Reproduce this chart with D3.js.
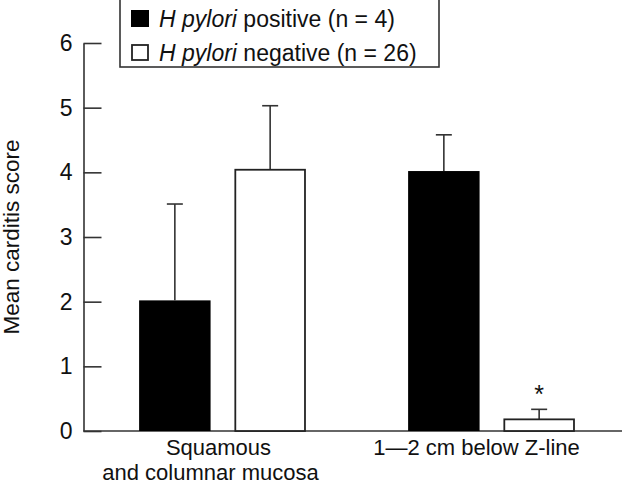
<!DOCTYPE html>
<html>
<head>
<meta charset="utf-8">
<script src="https://cdn.jsdelivr.net/npm/d3@7"></script>
<style>
  html, body { margin: 0; padding: 0; background: #fff; }
  svg { display: block; }
  text { font-family: "Liberation Sans", Arial, Helvetica, sans-serif; fill: #111; }
</style>
</head>
<body>
<svg id="chart" width="640" height="487"></svg>
<script>
// ---- data ----
const groups = ["Squamous and columnar mucosa", "1—2 cm below Z-line"];
const groupLabelLines = [["Squamous", "and columnar mucosa"], ["1—2 cm below Z-line"]];
const seriesNames = ["H pylori positive (n = 4)", "H pylori negative (n = 26)"];
const positiveMeans = [2.02, 4.02];
const positiveErrTop = [3.51, 4.58];
const negativeMeans = [4.04, 0.18];
const negativeErrTop = [5.03, 0.335];
const yTicks = [0, 1, 2, 3, 4, 5, 6];
const significance = ["", "*"]; // marks above negative bars

const svg = d3.select("#chart");
const axisColor = "#333";

const y = d3.scaleLinear().domain([0, 6]).range([431, 43]);
const x0 = d3.scaleBand().domain(groups).range([88, 626]).paddingInner(0.38).paddingOuter(0.19);
const x1 = d3.scaleBand().domain(["pos", "neg"]).range([0, x0.bandwidth()]).paddingInner(0.25).paddingOuter(0);

// y axis
const yAxis = d3.axisLeft(y).tickValues(yTicks).tickFormat(d3.format("d"))
  .tickSizeInner(-18).tickSizeOuter(0).tickPadding(11);
const gy = svg.append("g").attr("transform", "translate(83.5,0)").call(yAxis);
gy.select(".domain").attr("stroke", axisColor).attr("stroke-width", 1.6);
gy.selectAll(".tick line").attr("stroke", axisColor).attr("stroke-width", 1.6);
gy.selectAll(".tick text").style("font-size", "23px").attr("fill", "#111")
  .style("font-family", '"Liberation Sans", Arial, sans-serif');

// baseline
svg.append("line").attr("x1", 83.5).attr("x2", 622).attr("y1", y(0)).attr("y2", y(0))
  .attr("stroke", axisColor).attr("stroke-width", 1.6);

// data rows
const rows = [];
groups.forEach((g, i) => {
  rows.push({ g, s: "pos", v: positiveMeans[i], e: positiveErrTop[i], mark: "" });
  rows.push({ g, s: "neg", v: negativeMeans[i], e: negativeErrTop[i], mark: significance[i] });
});

const bx = d => x0(d.g) + x1(d.s);
const cx = d => bx(d) + x1.bandwidth() / 2;

// error bars (drawn first so bar covers the stem)
const eg = svg.append("g");
eg.selectAll("line.stem").data(rows).join("line").attr("class", "stem")
  .attr("x1", cx).attr("x2", cx).attr("y1", d => y(d.v)).attr("y2", d => y(d.e))
  .attr("stroke", axisColor).attr("stroke-width", 1.6);
eg.selectAll("line.cap").data(rows).join("line").attr("class", "cap")
  .attr("x1", d => cx(d) - 8).attr("x2", d => cx(d) + 8).attr("y1", d => y(d.e)).attr("y2", d => y(d.e))
  .attr("stroke", axisColor).attr("stroke-width", 1.6);

// bars
svg.append("g").selectAll("rect").data(rows).join("rect")
  .attr("x", d => d.s === "pos" ? bx(d) : bx(d) + 0.9)
  .attr("y", d => y(d.v))
  .attr("width", d => d.s === "pos" ? x1.bandwidth() : x1.bandwidth() - 1.8)
  .attr("height", d => y(0) - y(d.v))
  .attr("fill", d => d.s === "pos" ? "#000" : "#fff")
  .attr("stroke", d => d.s === "pos" ? "none" : "#222")
  .attr("stroke-width", 1.8);

// significance marks
svg.append("g").selectAll("text").data(rows.filter(d => d.mark)).join("text")
  .attr("x", cx).attr("y", d => y(d.e) - 6)
  .attr("text-anchor", "middle").style("font-size", "25px").text(d => d.mark);

// x labels
const labelShift = [-4, -15];
groups.forEach((g, i) => {
  groupLabelLines[i].forEach((ln, j) => {
    svg.append("text")
      .attr("x", x0(g) + x0.bandwidth() / 2 + labelShift[i] - (j ? 8 : 0))
      .attr("y", 455 + j * 24.8)
      .attr("text-anchor", "middle").style("font-size", "22px").text(ln);
  });
});

// y label
svg.append("text").attr("transform", "translate(19,237) rotate(-90)")
  .attr("text-anchor", "middle").style("font-size", "22.5px").text("Mean carditis score");

// legend
const lg = svg.append("g");
lg.append("rect").attr("x", 120).attr("y", -1).attr("width", 319).attr("height", 68)
  .attr("fill", "#fff").attr("stroke", axisColor).attr("stroke-width", 1.6);
const fills = ["#000", "#fff"];
seriesNames.forEach((name, i) => {
  const yy = 10 + i * 34;
  lg.append("rect").attr("x", i ? 132 : 131).attr("y", i ? yy + 1 : yy)
    .attr("width", i ? 16 : 18).attr("height", i ? 15 : 17)
    .attr("fill", fills[i]).attr("stroke", i ? "#222" : "none").attr("stroke-width", 1.8);
  const t = lg.append("text").attr("x", 159).attr("y", yy + 17).style("font-size", "23px");
  const parts = name.split("H pylori");
  t.append("tspan").style("font-style", "italic").text("H pylori");
  t.append("tspan").text(parts[1]);
});
</script>
</body>
</html>
